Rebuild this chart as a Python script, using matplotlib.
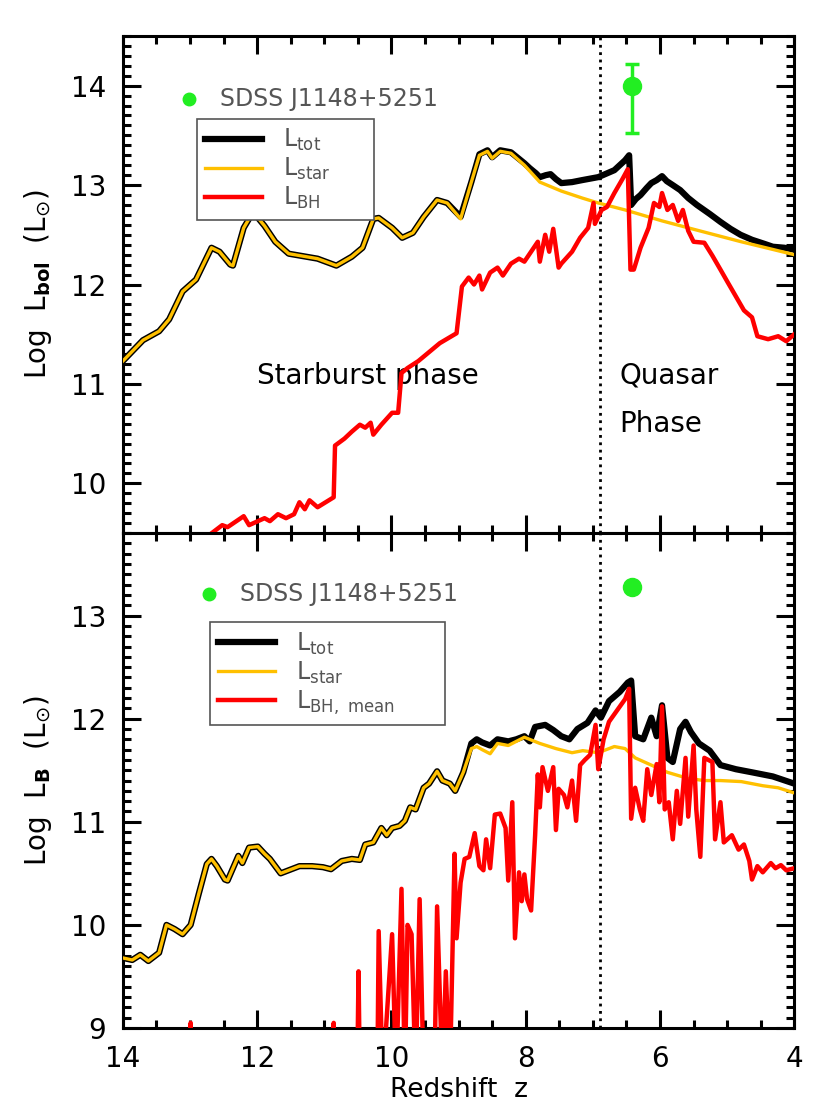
import matplotlib
matplotlib.use("Agg")
import matplotlib.pyplot as plt
from matplotlib.ticker import MultipleLocator

# ---------------- data: top panel (bolometric) ----------------
star_bol_z = [14.0, 13.70, 13.46, 13.31, 13.11, 12.91, 12.68, 12.56, 12.40, 12.36, 12.20, 12.06,
              11.89, 11.73, 11.53, 11.10, 10.82, 10.59, 10.43, 10.27, 10.19, 9.99, 9.84, 9.68,
              9.52, 9.32, 9.17, 8.97, 8.81, 8.69, 8.57, 8.50, 8.38, 8.22, 8.02, 7.79, 7.47,
              7.16, 6.92, 6.52, 5.97, 5.58, 4.79, 4.0]
star_bol = [11.23, 11.44, 11.53, 11.65, 11.93, 12.05, 12.37, 12.33, 12.20, 12.19, 12.57, 12.73,
            12.59, 12.43, 12.31, 12.26, 12.19, 12.28, 12.37, 12.66, 12.67, 12.57, 12.47, 12.52,
            12.68, 12.85, 12.82, 12.66, 13.03, 13.30, 13.34, 13.27, 13.34, 13.32, 13.20, 13.03, 12.94,
            12.87, 12.82, 12.75, 12.64, 12.57, 12.43, 12.30]

tot_bol_z = [14.0, 13.70, 13.46, 13.31, 13.11, 12.91, 12.68, 12.56, 12.40, 12.36, 12.20, 12.06,
             11.89, 11.73, 11.53, 11.10, 10.82, 10.59, 10.43, 10.27, 10.19, 9.99, 9.84, 9.68,
             9.52, 9.32, 9.17, 8.97, 8.81, 8.69, 8.57, 8.50, 8.38, 8.22, 8.02, 7.94, 7.85, 7.79,
             7.70, 7.63, 7.55, 7.47, 7.31, 7.16, 6.92, 6.68, 6.52, 6.46, 6.43, 6.36, 6.29, 6.20,
             6.13, 6.05, 5.97, 5.90, 5.81, 5.70, 5.58, 5.45, 5.26, 5.10, 4.95, 4.80, 4.63, 4.45,
             4.32, 4.15, 4.0]
tot_bol = [11.23, 11.44, 11.53, 11.65, 11.93, 12.05, 12.37, 12.33, 12.20, 12.19, 12.57, 12.73,
           12.59, 12.43, 12.31, 12.26, 12.19, 12.28, 12.37, 12.66, 12.67, 12.57, 12.47, 12.52,
           12.68, 12.85, 12.82, 12.68, 13.03, 13.31, 13.35, 13.28, 13.35, 13.33, 13.22, 13.17, 13.12,
           13.08, 13.10, 13.11, 13.06, 13.02, 13.03, 13.05, 13.08, 13.15, 13.25, 13.30, 12.80, 12.86,
           12.90, 12.97, 13.02, 13.05, 13.09, 13.04, 13.00, 12.95, 12.87, 12.80, 12.71, 12.63, 12.56,
           12.50, 12.45, 12.41, 12.38, 12.37, 12.35]

bh_bol_z = [12.83, 12.52, 12.44, 12.20, 12.12, 11.89, 11.81, 11.69, 11.57, 11.45, 11.37, 11.29,
            11.22, 11.10, 10.86, 10.84, 10.70, 10.59, 10.47, 10.39, 10.31, 10.27, 10.15, 9.99,
            9.90, 9.85, 9.76, 9.60, 9.44, 9.28, 9.03, 8.95, 8.85, 8.77, 8.69, 8.65, 8.53, 8.42,
            8.34, 8.22, 8.10, 8.02, 7.90, 7.82, 7.79, 7.71, 7.65, 7.59, 7.51, 7.47, 7.31, 7.19,
            7.07, 6.99, 6.97, 6.87, 6.79, 6.68, 6.56, 6.48, 6.44, 6.39, 6.29, 6.17, 6.09, 6.01,
            5.97, 5.89, 5.81, 5.73, 5.66, 5.58, 5.50, 5.34, 5.22, 5.10, 4.99, 4.87, 4.75, 4.63,
            4.55, 4.39, 4.24, 4.12, 4.0]
bh_bol = [9.42, 9.58, 9.56, 9.67, 9.58, 9.65, 9.62, 9.69, 9.65, 9.69, 9.81, 9.74,
          9.83, 9.76, 9.86, 10.38, 10.45, 10.52, 10.59, 10.56, 10.61, 10.49, 10.59, 10.71,
          10.71, 11.11, 11.16, 11.23, 11.32, 11.41, 11.51, 11.98, 12.07, 12.00, 12.09, 11.95, 12.12, 12.17,
          12.09, 12.21, 12.26, 12.23, 12.35, 12.43, 12.23, 12.50, 12.33, 12.56, 12.17, 12.21, 12.33, 12.47,
          12.57, 12.82, 12.61, 12.75, 12.78, 12.92, 13.06, 13.16, 12.15, 12.15, 12.37, 12.57, 12.82, 12.78,
          12.92, 12.75, 12.80, 12.64, 12.75, 12.54, 12.43, 12.42, 12.29, 12.15, 12.02, 11.88, 11.74, 11.67,
          11.48, 11.45, 11.48, 11.43, 11.50]

# ---------------- data: bottom panel (B band) ----------------
star_b_z = [14.0, 13.86, 13.74, 13.62, 13.46, 13.35, 13.23, 13.11, 12.99, 12.87, 12.75, 12.68,
            12.60, 12.48, 12.44, 12.28, 12.22, 12.12, 11.99, 11.89, 11.81, 11.65, 11.53, 11.37,
            11.18, 11.02, 10.90, 10.74, 10.59, 10.47, 10.39, 10.27, 10.15, 10.07, 9.99, 9.88,
            9.80, 9.72, 9.64, 9.52, 9.44, 9.32, 9.24, 9.13, 9.05, 8.93, 8.81, 8.73, 8.65, 8.53,
            8.42, 8.26, 8.14, 8.02, 7.79, 7.55, 7.31, 7.15, 6.92, 6.68, 6.52, 6.37, 6.13, 5.89,
            5.58, 5.34, 5.10, 4.79, 4.47, 4.24, 4.0]
star_b = [9.68, 9.66, 9.71, 9.65, 9.73, 10.00, 9.96, 9.91, 10.00, 10.30, 10.59, 10.64,
          10.57, 10.44, 10.43, 10.67, 10.60, 10.75, 10.76, 10.69, 10.64, 10.50, 10.53, 10.57,
          10.57, 10.56, 10.54, 10.62, 10.64, 10.63, 10.78, 10.80, 10.94, 10.87, 10.94, 10.96,
          11.01, 11.14, 11.12, 11.33, 11.37, 11.49, 11.40, 11.37, 11.30, 11.48, 11.71, 11.73, 11.70, 11.66,
          11.76, 11.74, 11.78, 11.82, 11.76, 11.71, 11.67, 11.69, 11.67, 11.73, 11.71, 11.62, 11.55, 11.48,
          11.42, 11.40, 11.40, 11.39, 11.35, 11.33, 11.28]

tot_b_z = [14.0, 13.86, 13.74, 13.62, 13.46, 13.35, 13.23, 13.11, 12.99, 12.87, 12.75, 12.68,
           12.60, 12.48, 12.44, 12.28, 12.22, 12.12, 11.99, 11.89, 11.81, 11.65, 11.53, 11.37,
           11.18, 11.02, 10.90, 10.74, 10.59, 10.47, 10.39, 10.27, 10.15, 10.07, 9.99, 9.88,
           9.80, 9.72, 9.64, 9.52, 9.44, 9.32, 9.24, 9.13, 9.05, 8.93, 8.81, 8.73, 8.65, 8.53,
           8.42, 8.26, 8.14, 8.02, 7.94, 7.86, 7.71, 7.59, 7.47, 7.35, 7.23, 7.08, 6.96, 6.88,
           6.76, 6.60, 6.48, 6.43, 6.37, 6.25, 6.13, 6.05, 5.97, 5.89, 5.81, 5.70, 5.62, 5.54,
           5.42, 5.26, 5.10, 4.87, 4.63, 4.32, 4.0]
tot_b = [9.68, 9.66, 9.71, 9.65, 9.73, 10.00, 9.96, 9.91, 10.00, 10.30, 10.59, 10.64,
         10.57, 10.44, 10.43, 10.67, 10.60, 10.75, 10.76, 10.69, 10.64, 10.50, 10.53, 10.57,
         10.57, 10.56, 10.54, 10.62, 10.64, 10.63, 10.78, 10.80, 10.94, 10.87, 10.94, 10.96,
         11.01, 11.14, 11.12, 11.33, 11.37, 11.49, 11.40, 11.37, 11.30, 11.48, 11.76, 11.80, 11.77, 11.74,
         11.80, 11.78, 11.80, 11.83, 11.78, 11.92, 11.94, 11.89, 11.83, 11.80, 11.90, 11.96, 12.08, 12.01,
         12.17, 12.26, 12.35, 12.37, 11.83, 11.80, 12.01, 11.83, 12.13, 11.62, 11.58, 11.90, 11.97, 11.87,
         11.76, 11.69, 11.55, 11.51, 11.48, 11.44, 11.37]

bh_b_z = [13.00, 12.99, 12.98, 10.87, 10.86, 10.85, 10.51, 10.49, 10.47, 10.21, 10.19, 10.13,
          9.99, 9.93, 9.85, 9.80, 9.76, 9.70, 9.64, 9.58, 9.52, 9.36, 9.32, 9.24, 9.19, 9.13,
          9.06, 9.03, 8.97, 8.91, 8.84, 8.76, 8.69, 8.63, 8.59, 8.53, 8.46, 8.38, 8.30, 8.26,
          8.20, 8.16, 8.10, 8.06, 8.02, 7.98, 7.92, 7.86, 7.82, 7.79, 7.75, 7.67, 7.59, 7.55,
          7.51, 7.43, 7.38, 7.31, 7.25, 7.19, 7.12, 7.04, 6.96, 6.92, 6.84, 6.76, 6.64, 6.52,
          6.46, 6.43, 6.37, 6.30, 6.25, 6.19, 6.13, 6.05, 6.01, 5.97, 5.93, 5.87, 5.81, 5.75,
          5.70, 5.62, 5.58, 5.50, 5.46, 5.40, 5.34, 5.22, 5.18, 5.10, 5.05, 4.93, 4.83, 4.75,
          4.67, 4.63, 4.55, 4.47, 4.35, 4.28, 4.20, 4.12, 4.0]
bh_b = [8.5, 9.05, 8.5, 8.5, 9.05, 8.5, 8.5, 9.55, 8.5, 8.5, 9.94, 8.5,
        9.91, 8.5, 10.35, 8.5, 10.00, 9.91, 8.5, 10.25, 8.5, 8.5, 10.18, 8.5, 9.55, 8.5,
        10.69, 9.87, 10.41, 10.64, 10.66, 10.89, 10.57, 10.53, 10.83, 10.55, 11.07, 11.08, 10.94, 10.43,
        11.19, 9.87, 10.51, 10.23, 10.49, 10.25, 10.14, 10.87, 11.46, 11.14, 11.53, 11.30, 11.53, 10.92,
        11.32, 11.26, 11.14, 11.40, 11.01, 11.55, 11.60, 11.65, 11.94, 11.51, 11.80, 11.97, 12.08, 12.19,
        12.29, 11.03, 11.33, 11.12, 11.01, 11.51, 11.26, 11.56, 11.19, 12.12, 11.12, 11.19, 10.83, 11.30,
        10.98, 11.62, 11.05, 11.74, 11.12, 10.66, 11.62, 11.58, 10.83, 11.19, 10.80, 10.87, 10.73, 10.78,
        10.62, 10.44, 10.57, 10.51, 10.60, 10.55, 10.58, 10.53, 10.55]

# observed quasar SDSS J1148+5251
qso_z = 6.42
qso_bol = 14.0
qso_bol_err_lo = 0.48
qso_bol_err_hi = 0.22
qso_b = 13.28
transition_z = 6.9

C_STAR = "#FFC000"
C_BH = "#FF0000"
C_TOT = "#000000"
C_GREEN = "#22EE22"
C_GRAY = "#555555"

plt.rcParams['font.family'] = ['DejaVu Sans']
plt.rcParams['mathtext.fontset'] = 'dejavusans'

fig = plt.figure(figsize=(8.3, 11.06), dpi=100)
L, W = 0.148, 0.809
ax1 = fig.add_axes([L, 0.518, W, 0.4495])
ax2 = fig.add_axes([L, 0.0705, W, 0.4475], sharex=ax1)


def style(ax):
    for s in ax.spines.values():
        s.set_linewidth(2.2)
    ax.tick_params(which='both', direction='in', top=True, right=True, width=2.2)
    ax.tick_params(which='major', length=13, labelsize=20, pad=12)
    ax.tick_params(which='minor', length=6)
    ax.xaxis.set_major_locator(MultipleLocator(2))
    ax.xaxis.set_minor_locator(MultipleLocator(0.5))
    ax.yaxis.set_major_locator(MultipleLocator(1))
    ax.yaxis.set_minor_locator(MultipleLocator(0.1))


def make_legend(ax, x0, y0, w):
    leg = ax.legend(loc='upper left', bbox_to_anchor=(x0, y0 - 0.3, w, 0.3), mode='expand',
                    fontsize=17, frameon=True, fancybox=False, edgecolor=C_GRAY, framealpha=1,
                    handlelength=2.4, labelspacing=0.12, borderpad=0.35, handletextpad=0.9,
                    borderaxespad=0)
    leg.get_frame().set_linewidth(1.2)
    for t in leg.get_texts():
        t.set_color(C_GRAY)
    return leg


# top panel
ax1.plot(tot_bol_z, tot_bol, color=C_TOT, lw=4.5, label=r'L$_{\rm tot}$', zorder=2)
ax1.plot(star_bol_z, star_bol, color=C_STAR, lw=2.4, label=r'L$_{\rm star}$', zorder=3)
ax1.plot(bh_bol_z, bh_bol, color=C_BH, lw=3.2, label=r'L$_{\rm BH}$', zorder=4)
ax1.axvline(transition_z, color='k', ls=':', lw=2)
ax1.errorbar([qso_z], [qso_bol], yerr=[[qso_bol_err_lo], [qso_bol_err_hi]], fmt='o',
             color=C_GREEN, ms=13, elinewidth=2.5, capsize=5, capthick=2.5, zorder=5)
ax1.plot([13.02], [13.87], 'o', color=C_GREEN, ms=9)
ax1.text(12.55, 13.87, 'SDSS J1148+5251', color=C_GRAY, fontsize=17, va='center')
ax1.text(12.0, 11.08, 'Starburst phase', fontsize=20, va='center')
ax1.text(6.6, 11.08, 'Quasar', fontsize=20, va='center')
ax1.text(6.6, 10.6, 'Phase', fontsize=20, va='center')
ax1.set_xlim(14, 4)
ax1.set_ylim(9.5, 14.5)
style(ax1)
ax1.tick_params(labelbottom=False)
ax1.set_ylabel(r'Log  L$_{\mathbf{bol}}$  (L$_{\odot}$)', fontsize=20, labelpad=12)
make_legend(ax1, 0.110, 0.833, 0.264)

# bottom panel
ax2.plot(tot_b_z, tot_b, color=C_TOT, lw=4.5, label=r'L$_{\rm tot}$', zorder=2)
ax2.plot(star_b_z, star_b, color=C_STAR, lw=2.4, label=r'L$_{\rm star}$', zorder=3)
ax2.plot(bh_b_z, bh_b, color=C_BH, lw=3.2, label=r'L$_{\rm BH,\ mean}$', zorder=4)
ax2.axvline(transition_z, color='k', ls=':', lw=2)
ax2.plot([qso_z], [qso_b], 'o', color=C_GREEN, ms=13, zorder=5)
ax2.plot([12.72], [13.21], 'o', color=C_GREEN, ms=9)
ax2.text(12.25, 13.21, 'SDSS J1148+5251', color=C_GRAY, fontsize=17, va='center')
ax2.set_xlim(14, 4)
ax2.set_ylim(9.0, 13.8)
style(ax2)
ax2.set_ylabel(r'Log  L$_{\mathbf{B}}$  (L$_{\odot}$)', fontsize=20, labelpad=12)
ax2.set_xlabel('Redshift  z', fontsize=19)
ax2.xaxis.set_label_coords(0.5, -0.098)
make_legend(ax2, 0.130, 0.820, 0.350)

fig.savefig('out.png', dpi=100)
